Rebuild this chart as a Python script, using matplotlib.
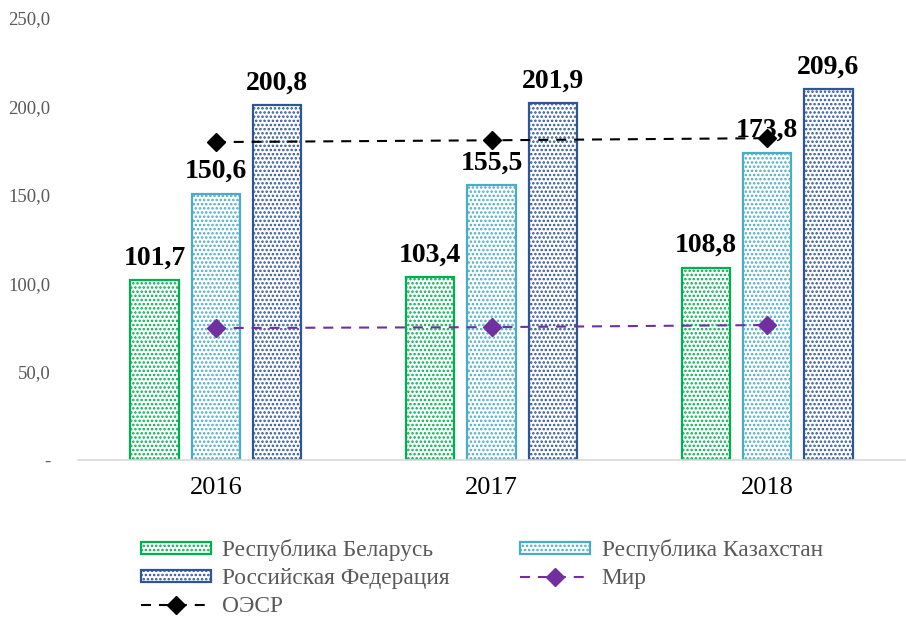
import matplotlib.pyplot as plt
import numpy as np

plt.rcParams['font.family'] = ['Liberation Serif', 'DejaVu Serif']
plt.rcParams['hatch.linewidth'] = 1.2

years = ['2016', '2017', '2018']
belarus = [101.7, 103.4, 108.8]
kazakhstan = [150.6, 155.5, 173.8]
russia = [200.8, 201.9, 209.6]
world = [74.6, 75.1, 76.3]
oecd = [179.8, 180.8, 182.0]

bar_series = [
    ('Республика Беларусь', belarus, '#00B050'),
    ('Республика Казахстан', kazakhstan, '#4BACC6'),
    ('Российская Федерация', russia, '#2F5597'),
]

fig = plt.figure(figsize=(9.06, 6.19), dpi=100)
ax = fig.add_axes([0.086, 0.257, 0.913, 0.714])

x = np.arange(len(years))
width = 0.175
step = 0.222

handles = {}
for i, (name, vals, color) in enumerate(bar_series):
    pos = x + (i - 1) * step
    bars = ax.bar(pos, vals, width, facecolor='white', edgecolor=color,
                  hatch='....', linewidth=1.6, label=name, zorder=2)
    handles[name] = bars
    for xp, v in zip(pos, vals):
        ax.annotate(f'{v:.1f}'.replace('.', ','), (xp, v), xytext=(0, 7),
                    textcoords='offset points', ha='center', va='bottom',
                    fontsize=20, fontweight='bold', color='black', zorder=3)

mir, = ax.plot(x, world, linestyle=(0, (4.8, 3.8)), color='#7030A0', linewidth=1.5,
               marker='D', markersize=9, zorder=4, label='Мир')
oesr, = ax.plot(x, oecd, linestyle=(0, (4.8, 3.8)), color='black', linewidth=1.5,
                marker='D', markersize=9, zorder=4, label='ОЭСР')

ax.set_xlim(-0.5, 2.5)
ax.set_ylim(0, 250)
ax.set_yticks([0, 50, 100, 150, 200, 250])
ax.set_yticklabels(['-', '50,0', '100,0', '150,0', '200,0', '250,0'])
ax.set_xticks(x)
ax.set_xticklabels(years)
ax.tick_params(axis='y', length=0, labelsize=13.5, colors='#595959', pad=20)
ax.tick_params(axis='x', length=0, labelsize=19, colors='black', pad=12)
for side in ['top', 'right', 'left']:
    ax.spines[side].set_visible(False)
ax.spines['bottom'].set_color('#D9D9D9')
ax.spines['bottom'].set_linewidth(1.2)

# legend fills column by column, so list column 1 first, then column 2
order = [handles['Республика Беларусь'], handles['Российская Федерация'], oesr,
         handles['Республика Казахстан'], mir]
labels = ['Республика Беларусь', 'Российская Федерация', 'ОЭСР',
          'Республика Казахстан', 'Мир']
leg = fig.legend(order, labels, ncol=2, loc='upper left',
                 bbox_to_anchor=(0.132, 0.163), frameon=False, fontsize=16.8,
                 handlelength=3.0, handleheight=0.45, handletextpad=0.5,
                 columnspacing=3.0, labelspacing=0.3)
for t in leg.get_texts():
    t.set_color('#595959')

fig.savefig('out.png', dpi=100)
